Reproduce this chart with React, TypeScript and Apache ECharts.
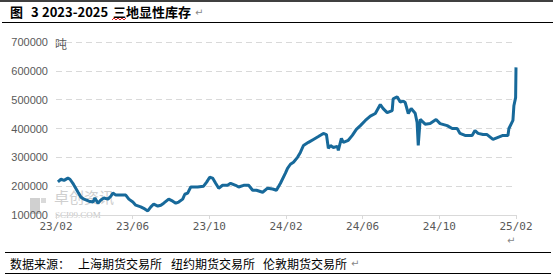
import React, { useEffect, useRef } from "react";
import * as echarts from "echarts";

// months since 2023-02 (fractional) and inventory in tonnes
const monthIndex = [
  0.10, 0.26, 0.42, 0.62, 0.73, 0.88, 0.94, 1.15, 1.30, 1.46, 1.72, 1.93, 2.03, 2.19, 2.34, 2.50,
  2.71, 2.86, 2.97, 3.12, 3.38, 3.64, 3.80, 4.01, 4.16, 4.42, 4.63, 4.79, 4.95, 5.10, 5.31, 5.47,
  5.62, 5.88, 6.09, 6.25, 6.40, 6.61, 6.72, 6.87, 7.03, 7.18, 7.39, 7.70, 7.86, 8.02, 8.17, 8.33,
  8.49, 8.69, 8.95, 9.11, 9.37, 9.53, 9.79, 10.05, 10.26, 10.46, 10.78, 11.04, 11.30, 11.50, 11.71,
  11.97, 12.08, 12.23, 12.39, 12.60, 12.75, 12.91, 13.17, 13.43, 13.69, 13.95, 14.11, 14.21, 14.32,
  14.47, 14.68, 14.73, 14.89, 14.99, 15.25, 15.46, 15.67, 15.88, 16.14, 16.40, 16.66, 16.92, 17.07,
  17.28, 17.54, 17.59, 17.80, 17.96, 18.12, 18.22, 18.38, 18.53, 18.74, 18.84, 18.90, 19.00, 19.26,
  19.52, 19.83, 20.04, 20.41, 20.67, 20.93, 21.08, 21.34, 21.71, 21.86, 22.02, 22.28, 22.49, 22.80,
  23.06, 23.32, 23.58, 23.63, 23.84, 23.89, 23.98, 24.0,
];
const inventory = [
  215000, 224000, 220000, 228000, 224000, 210000, 203000, 179000, 162000, 155000, 148000, 145000,
  159000, 141000, 152000, 159000, 155000, 165000, 176000, 169000, 169000, 169000, 155000, 145000,
  134000, 128000, 121000, 114000, 128000, 138000, 131000, 134000, 141000, 155000, 148000, 141000,
  145000, 155000, 172000, 176000, 197000, 197000, 197000, 200000, 214000, 231000, 228000, 210000,
  193000, 203000, 203000, 210000, 203000, 197000, 203000, 203000, 186000, 186000, 179000, 193000,
  190000, 186000, 210000, 245000, 262000, 276000, 283000, 300000, 317000, 341000, 352000, 362000,
  372000, 383000, 379000, 331000, 341000, 334000, 338000, 324000, 366000, 352000, 359000, 376000,
  397000, 410000, 428000, 443000, 452000, 483000, 469000, 455000, 462000, 503000, 510000, 492000,
  495000, 490000, 452000, 469000, 453000, 421000, 341000, 432000, 415000, 417000, 431000, 417000,
  410000, 400000, 400000, 383000, 376000, 376000, 393000, 383000, 379000, 379000, 362000, 369000,
  376000, 376000, 400000, 428000, 479000, 507000, 612000,
];
const xTickLabels = ["23/02", "23/06", "23/10", "24/02", "24/06", "24/10", "25/02"];
const titleParts = ["图", "3", "2023-2025", "三地显性库存"];
const sourceParts = ["数据来源：", "上海期货交易所", "纽约期货交易所", "伦敦期货交易所"];

export default function App() {
  const ref = useRef<HTMLDivElement>(null);
  useEffect(() => {
    if (!ref.current) return;
    const chart = echarts.init(ref.current, undefined, { renderer: "svg" });
    const data = monthIndex.map((m, i) => [m, inventory[i]]);
    const titleX = [10, 31, 42, 113];
    const sourceX = [10, 78, 171, 263];
    const cjk = "Noto Sans CJK SC";
    chart.setOption({
      animation: false,
      backgroundColor: "#ffffff",
      grid: { left: 56, right: 37, top: 42, bottom: 61, containLabel: false },
      xAxis: {
        type: "value",
        min: 0,
        max: 24,
        interval: 4,
        axisLine: { show: true, lineStyle: { color: "#d9d9d9", width: 1 } },
        axisTick: { show: true, length: 4, inside: false, lineStyle: { color: "#d9d9d9" } },
        splitLine: { show: false },
        axisLabel: {
          color: "#595959",
          fontSize: 11,
          fontFamily: "DejaVu Sans Mono",
          margin: 6,
          formatter: (v: number) => xTickLabels[Math.round(v / 4)] ?? "",
        },
      },
      yAxis: {
        type: "value",
        min: 100000,
        max: 700000,
        interval: 100000,
        axisLine: { show: false },
        axisTick: { show: false },
        splitLine: { show: true, lineStyle: { color: "#d9d9d9", type: [6, 4], width: 1 } },
        axisLabel: {
          color: "#595959",
          fontSize: 11,
          fontFamily: "Liberation Sans",
          margin: 8,
          formatter: (v: number) => String(v),
        },
      },
      graphic: [
        // watermark
        { type: "rect", left: 30, top: 198, z: -1, shape: { width: 10, height: 16 }, style: { fill: "#d0d0d0" } },
        { type: "rect", left: 41, top: 198, z: -1, shape: { width: 5, height: 5 }, style: { fill: "#dadada" } },
        { type: "text", left: 54, top: 189, z: -1, style: { text: "卓创资讯", fill: "#cfcfcf", fontSize: 15, fontFamily: cjk } },
        { type: "text", left: 55, top: 210, z: -1, style: { text: "SCI99.COM", fill: "#c8c8c8", fontSize: 9, fontFamily: "Liberation Serif" } },
        // unit
        { type: "text", left: 55, top: 37, style: { text: "吨", fill: "#595959", fontSize: 12, fontFamily: cjk } },
        // title and borders
        { type: "line", shape: { x1: 0, y1: 1, x2: 553, y2: 1 }, style: { stroke: "#000", lineWidth: 1.5 } },
        ...titleParts.map((t, i) => ({
          type: "text",
          left: titleX[i],
          top: 5,
          style: { text: t, fill: "#000", fontSize: 13, fontWeight: "bold", fontFamily: cjk },
        })),
        { type: "text", left: 195, top: 7, style: { text: "↵", fill: "#888", fontSize: 10, fontFamily: "DejaVu Sans" } },
        { type: "polyline", shape: { points: [[112, 20], [114, 18], [116, 20], [118, 18], [120, 20], [122, 18], [124, 20], [126, 18]] }, style: { stroke: "#e02020", lineWidth: 1, fill: "none" } },
        { type: "line", shape: { x1: 2, y1: 22.5, x2: 553, y2: 22.5 }, style: { stroke: "#000", lineWidth: 1 } },
        { type: "text", left: 507, top: 235, style: { text: "↵", fill: "#888", fontSize: 10, fontFamily: "DejaVu Sans" } },
        { type: "line", shape: { x1: 5, y1: 252.5, x2: 551, y2: 252.5 }, style: { stroke: "#000", lineWidth: 1 } },
        ...sourceParts.map((t, i) => ({
          type: "text",
          left: sourceX[i],
          top: 257,
          style: { text: t, fill: "#000", fontSize: 12, fontFamily: cjk },
        })),
        { type: "text", left: 351, top: 258, style: { text: "↵", fill: "#888", fontSize: 10, fontFamily: "DejaVu Sans" } },
        { type: "line", shape: { x1: 5, y1: 273.5, x2: 551, y2: 273.5 }, style: { stroke: "#000", lineWidth: 1 } },
      ],
      series: [
        {
          type: "line",
          data,
          showSymbol: false,
          symbol: "none",
          lineStyle: { color: "#17699a", width: 3 },
          z: 5,
        },
      ],
    });
    return () => chart.dispose();
  }, []);
  return (
    <div
      ref={ref}
      style={{ position: "fixed", left: 0, top: 0, width: 553, height: 276 }}
    />
  );
}
